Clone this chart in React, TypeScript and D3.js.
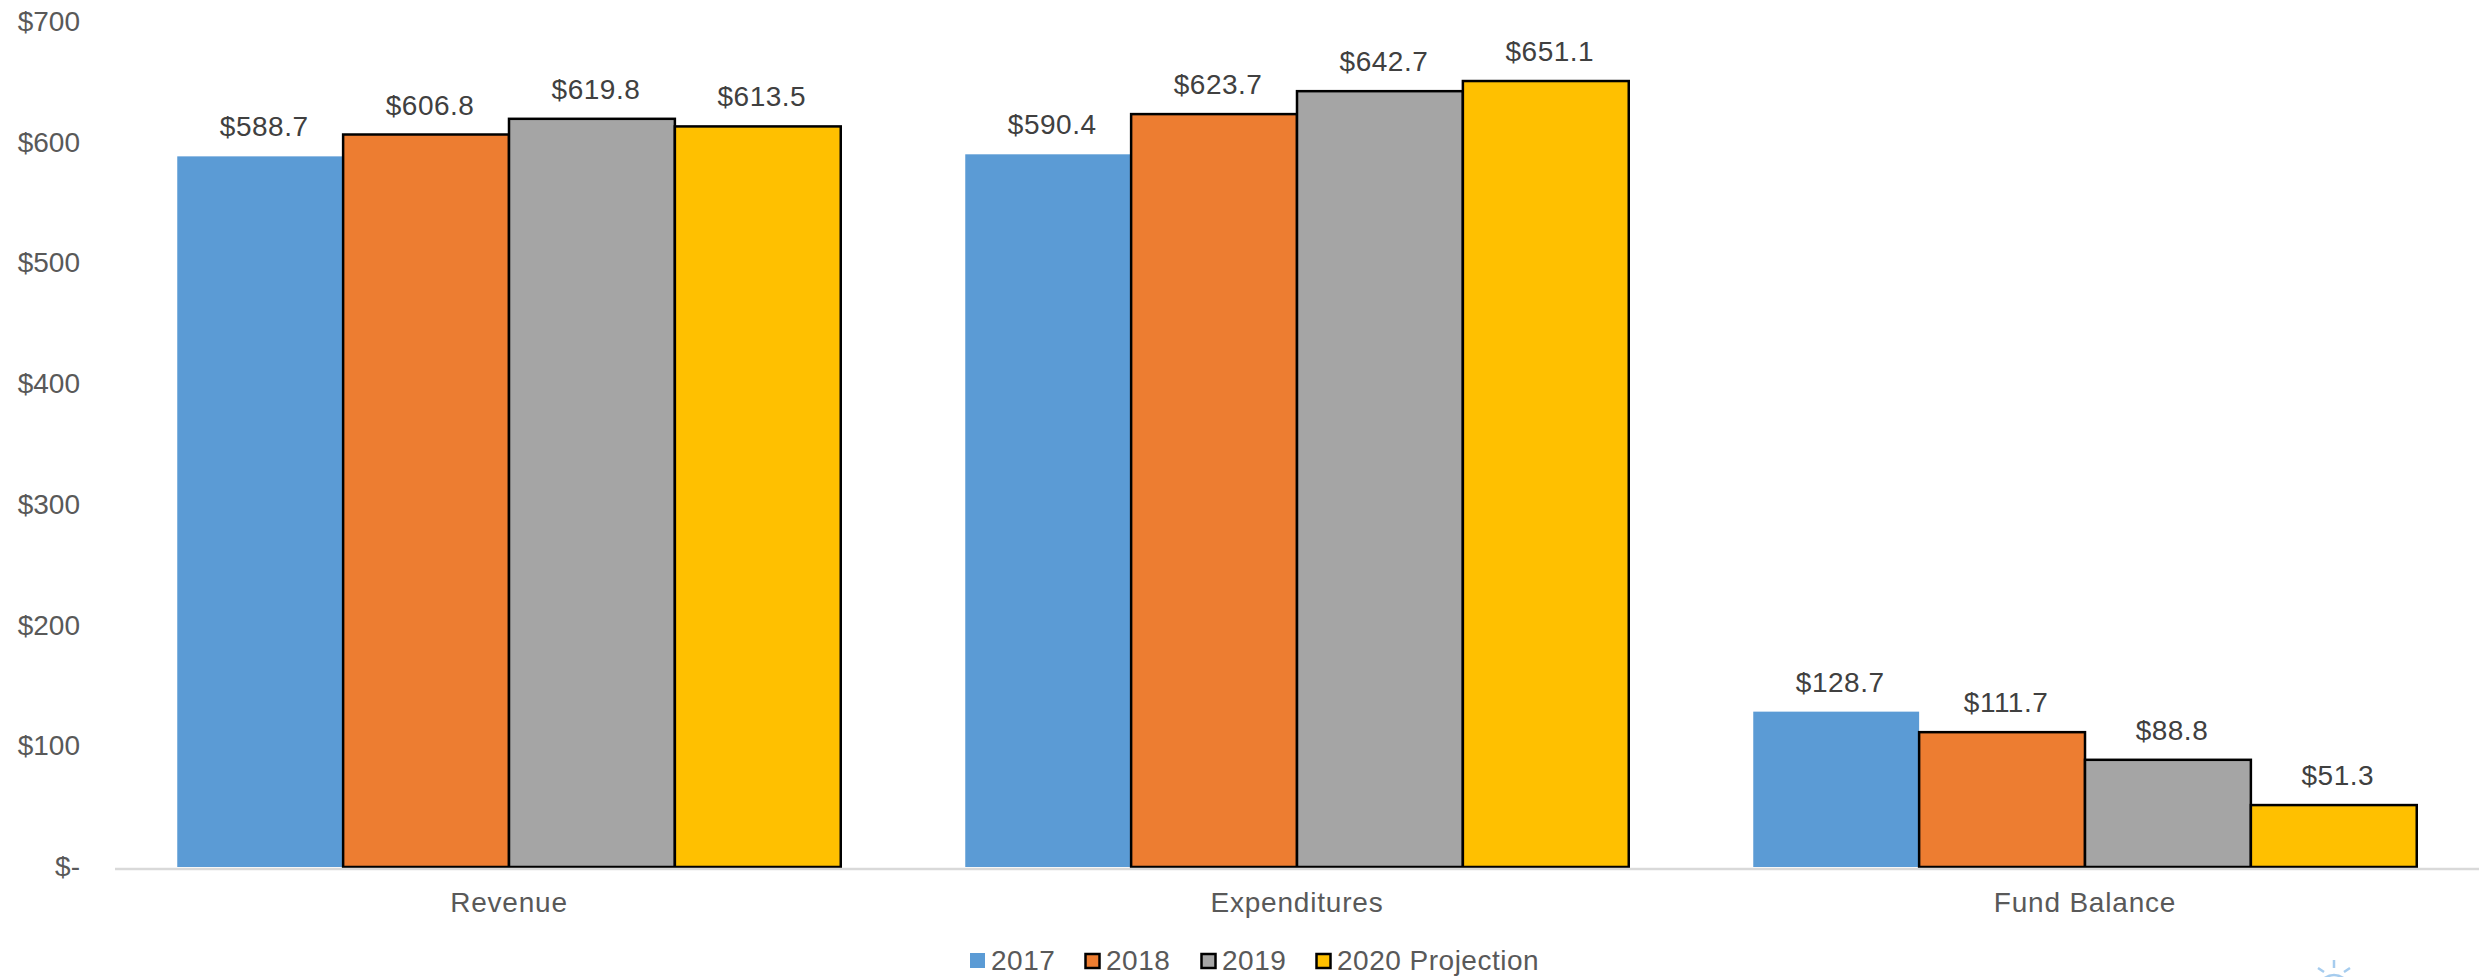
import React, { useEffect, useRef } from "react";
import * as d3 from "d3";

const categories = ["Revenue", "Expenditures", "Fund Balance"];
const seriesNames = ["2017", "2018", "2019", "2020 Projection"];
const values2017 = [588.7, 590.4, 128.7];
const values2018 = [606.8, 623.7, 111.7];
const values2019 = [619.8, 642.7, 88.8];
const values2020 = [613.5, 651.1, 51.3];
const seriesValues = [values2017, values2018, values2019, values2020];
const seriesColors = ["#5B9BD5", "#ED7D31", "#A5A5A5", "#FFC000"];
const yTicks = [0, 100, 200, 300, 400, 500, 600, 700];
const legendSwatchX = [970, 1084, 1200, 1315];

const FONT = "'Liberation Sans', Arial, sans-serif";

export default function App() {
  const ref = useRef<SVGSVGElement | null>(null);

  useEffect(() => {
    const svg = d3.select(ref.current);
    svg.selectAll("*").remove();

    const x0 = d3.scaleBand<string>().domain(categories).range([115, 2479]).paddingInner(0.158).paddingOuter(0.079);
    const x1 = d3.scaleBand<string>().domain(seriesNames).range([0, x0.bandwidth()]);
    const y = d3.scaleLinear().domain([0, 700]).range([867, 22]);

    // Value axis labels
    svg.append("g")
      .selectAll("text")
      .data(yTicks)
      .join("text")
      .attr("x", 80)
      .attr("y", (d) => y(d) + 9)
      .attr("text-anchor", "end")
      .attr("font-family", FONT)
      .attr("font-size", 28)
      .attr("fill", "#595959")
      .text((d) => (d === 0 ? "$-" : `$${d}`));

    // Clustered bars; the first series has no outline
    seriesNames.forEach((name, s) => {
      svg.append("g")
        .selectAll("rect")
        .data(seriesValues[s])
        .join("rect")
        .attr("x", (_, i) => x0(categories[i])! + x1(name)!)
        .attr("y", (d) => y(d))
        .attr("width", x1.bandwidth())
        .attr("height", (d) => y(0) - y(d))
        .attr("fill", seriesColors[s])
        .attr("stroke", s === 0 ? "none" : "#000")
        .attr("stroke-width", 2.5);
    });

    // Category axis line
    svg.append("line")
      .attr("x1", 115)
      .attr("x2", 2479)
      .attr("y1", y(0) + 2)
      .attr("y2", y(0) + 2)
      .attr("stroke", "#D9D9D9")
      .attr("stroke-width", 2.5);

    // Data labels above the bars
    seriesNames.forEach((name, s) => {
      svg.append("g")
        .selectAll("text")
        .data(seriesValues[s])
        .join("text")
        .attr("x", (_, i) => x0(categories[i])! + x1(name)! + x1.bandwidth() / 2 + 4)
        .attr("y", (d) => y(d) - 20)
        .attr("text-anchor", "middle")
        .attr("font-family", FONT)
        .attr("font-size", 28)
        .attr("letter-spacing", 0.5)
        .attr("fill", "#404040")
        .text((d) => `$${d.toFixed(1)}`);
    });

    // Category labels
    svg.append("g")
      .selectAll("text")
      .data(categories)
      .join("text")
      .attr("x", (d) => x0(d)! + x0.bandwidth() / 2)
      .attr("y", 912)
      .attr("text-anchor", "middle")
      .attr("font-family", FONT)
      .attr("font-size", 28)
      .attr("letter-spacing", 0.8)
      .attr("fill", "#595959")
      .text((d) => d);

    // Legend
    const legend = svg.append("g");
    seriesNames.forEach((name, s) => {
      legend.append("rect")
        .attr("x", legendSwatchX[s] + (s === 0 ? 0 : 1.5))
        .attr("y", 953 + (s === 0 ? 0 : 1))
        .attr("width", s === 0 ? 15 : 14)
        .attr("height", s === 0 ? 15 : 14)
        .attr("fill", seriesColors[s])
        .attr("stroke", s === 0 ? "none" : "#000")
        .attr("stroke-width", 2.5);
      legend.append("text")
        .attr("x", legendSwatchX[s] + (s === 0 ? 21 : 22))
        .attr("y", 970)
        .attr("font-family", FONT)
        .attr("font-size", 28)
        .attr("letter-spacing", 0.5)
        .attr("fill", "#595959")
        .text(name);
    });

    // Small sun emblem cut off by the lower edge
    const emblem = d3.path();
    emblem.moveTo(2334, 960);
    emblem.lineTo(2334, 968);
    emblem.moveTo(2318, 968);
    emblem.lineTo(2324, 972);
    emblem.moveTo(2350, 968);
    emblem.lineTo(2344, 972);
    emblem.moveTo(2322, 980);
    emblem.quadraticCurveTo(2334, 970, 2346, 980);
    svg.append("path")
      .attr("d", emblem.toString())
      .attr("fill", "none")
      .attr("stroke", "#A6CCEE")
      .attr("stroke-width", 2.5);
  }, []);

  return <svg ref={ref} width={2486} height={977} style={{ position: "absolute", left: 0, top: 0, background: "#fff" }} />;
}
